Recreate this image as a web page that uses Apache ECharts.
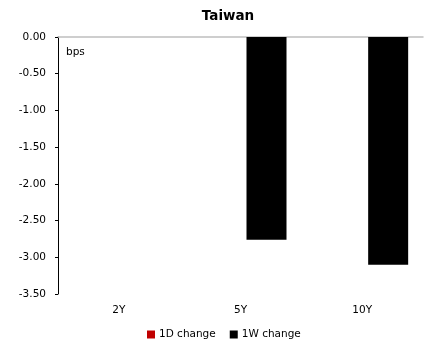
<!DOCTYPE html>
<html>
<head>
<meta charset="utf-8">
<script src="https://cdn.jsdelivr.net/npm/echarts@6/dist/echarts.min.js"></script>
<style>
  html, body { margin: 0; padding: 0; background: #fff; }
  #chart { width: 425px; height: 342px; }
</style>
</head>
<body>
<div id="chart"></div>
<script>
// Tenors on the curve
const tenors = ['2Y', '5Y', '10Y'];
// Yield changes in basis points
const change1D = [0, 0, 0];
const change1W = [0, -2.76, -3.10];
// Value axis range and step
const yMin = -3.5;
const yMax = 0;
const yStep = 0.5;

const font = '"DejaVu Sans", sans-serif';
const chart = echarts.init(document.getElementById('chart'));

chart.setOption({
  animation: false,
  title: {
    text: 'Taiwan',
    left: 223,
    textAlign: 'center',
    top: 4,
    textStyle: { fontFamily: font, fontSize: 13.5, fontWeight: 'bold', color: '#000' }
  },
  legend: {
    bottom: 2,
    left: 147,
    padding: 0,
    itemWidth: 8,
    itemHeight: 8,
    itemGap: 14,
    icon: 'rect',
    textStyle: { fontFamily: font, fontSize: 10.5, color: '#000', padding: [0, 0, 0, -1] },
    data: ['1D change', '1W change']
  },
  grid: { left: 58, right: 2, top: 37, bottom: 48 },
  xAxis: [
    {
      type: 'category',
      data: tenors,
      position: 'top',
      axisLine: { lineStyle: { color: '#bfbfbf', width: 1.5 } },
      axisTick: { inside: true, length: 3, lineStyle: { color: '#bfbfbf' } },
      axisLabel: { show: false }
    },
    {
      type: 'category',
      data: tenors,
      position: 'bottom',
      axisLine: { show: false },
      axisTick: { show: false },
      axisLabel: { fontFamily: font, fontSize: 10.5, color: '#000', margin: 11 }
    }
  ],
  yAxis: {
    type: 'value',
    min: yMin,
    max: yMax,
    interval: yStep,
    name: 'bps',
    nameLocation: 'end',
    nameGap: -21,
    nameTextStyle: { fontFamily: font, fontSize: 10.5, color: '#000', align: 'left', padding: [0, 0, 0, 8] },
    axisLine: { show: true, lineStyle: { color: '#000', width: 1 } },
    axisTick: { show: true, length: 3, lineStyle: { color: '#000' } },
    splitLine: { show: false },
    axisLabel: {
      fontFamily: font, fontSize: 10.5, color: '#000', margin: 12,
      formatter: v => v.toFixed(2)
    }
  },
  series: [
    {
      name: '1D change',
      type: 'bar',
      xAxisIndex: 0,
      data: change1D,
      barWidth: 40,
      barGap: '30%',
      itemStyle: { color: '#c00000' }
    },
    {
      name: '1W change',
      type: 'bar',
      xAxisIndex: 0,
      data: change1W,
      barWidth: 40,
      barGap: '30%',
      itemStyle: { color: '#000' }
    }
  ]
});
</script>
</body>
</html>
